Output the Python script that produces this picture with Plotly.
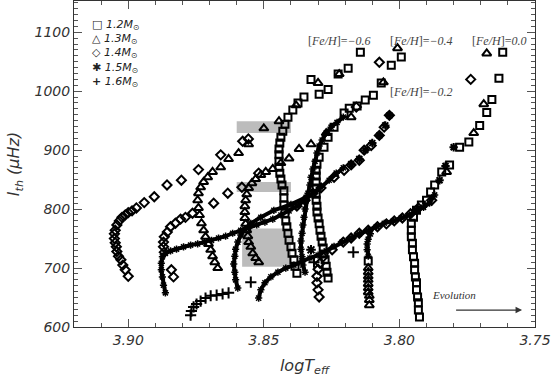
import plotly.graph_objects as go

# ---- 1.2 Msun (squares) ----
s06_x = [3.8378, 3.8385, 3.8389, 3.8396, 3.8400, 3.8407, 3.8411, 3.8415, 3.8419, 3.8422, 3.8426, 3.8426,
         3.8426, 3.8433, 3.8437, 3.8441, 3.8444, 3.8444, 3.8444, 3.8444, 3.8441, 3.8437, 3.8430, 3.8422,
         3.8411, 3.8393, 3.8374, 3.8352, 3.8326, 3.8296, 3.8263, 3.8226, 3.8189, 3.8144]
s06_y = [691, 703, 714, 725, 736, 747, 759, 770, 780, 793, 807, 819, 831, 841, 851, 861, 871, 881, 892, 902,
         912, 922, 932, 944, 956, 968, 980, 990, 1020, 995, 1003, 1029, 1039, 1066]
s04_x = [3.8263, 3.8267, 3.8270, 3.8274, 3.8278, 3.8281, 3.8285, 3.8289, 3.8293, 3.8296, 3.8300, 3.8304,
         3.8304, 3.8307, 3.8307, 3.8307, 3.8307, 3.8307, 3.8307, 3.8304, 3.8296, 3.8278, 3.8263, 3.8241,
         3.8204, 3.8185, 3.8156, 3.8126, 3.8096, 3.8067, 3.8030, 3.7993]
s04_y = [683, 693, 703, 714, 724, 734, 744, 754, 764, 775, 785, 795, 805, 815, 825, 836, 846, 856, 866, 876,
         888, 905, 922, 939, 963, 971, 975, 985, 993, 1014, 1044, 1058]
s02_x = [3.8115]
s02_y = [712]
s00_x = [3.7926, 3.7930, 3.7930, 3.7933, 3.7937, 3.7937, 3.7941, 3.7944, 3.7944, 3.7948, 3.7952, 3.7952,
         3.7956, 3.7956, 3.7956, 3.7948, 3.7937, 3.7919, 3.7900, 3.7885, 3.7870, 3.7844, 3.7815, 3.7778,
         3.7744, 3.7704, 3.7678, 3.7659, 3.7633, 3.7619]
s00_y = [617, 629, 641, 651, 663, 675, 685, 697, 708, 719, 731, 742, 753, 764, 776, 786, 798, 807, 815, 829,
         841, 863, 875, 905, 914, 942, 964, 986, 1022, 1066]

# ---- 1.3 Msun (triangles) ----
t06_x = [3.8670, 3.8681, 3.8689, 3.8696, 3.8704, 3.8715, 3.8722, 3.8730, 3.8737, 3.8741, 3.8744, 3.8741,
         3.8733, 3.8722, 3.8707, 3.8689, 3.8659, 3.8630, 3.8593, 3.8556, 3.8500, 3.8444, 3.8381, 3.8300,
         3.8222]
t06_y = [700, 710, 720, 731, 741, 753, 764, 776, 790, 802, 815, 827, 837, 846, 854, 863, 871, 885, 895, 910,
         937, 949, 976, 1014, 1029]
t04_x = [3.8519, 3.8530, 3.8541, 3.8548, 3.8556, 3.8559, 3.8563, 3.8567, 3.8570, 3.8570, 3.8570, 3.8567,
         3.8563, 3.8556, 3.8544, 3.8530, 3.8511, 3.8493, 3.8467, 3.8437, 3.8407, 3.8370, 3.8326, 3.8270,
         3.8178, 3.8059, 3.8007]
t04_y = [710, 717, 725, 736, 744, 754, 764, 775, 785, 795, 805, 815, 825, 836, 844, 851, 858, 863, 868, 878,
         886, 902, 910, 929, 956, 1015, 1073]
t02_x = [3.8111, 3.8111, 3.8111, 3.8115, 3.8115, 3.8115, 3.8115, 3.8115, 3.8115, 3.8115, 3.7826, 3.7726,
         3.7689, 3.7678]
t02_y = [637, 646, 653, 659, 666, 673, 680, 686, 693, 700, 863, 929, 978, 1064]

# ---- 1.4 Msun (diamonds) ----
d06_x = [3.9000, 3.9011, 3.9020, 3.9027, 3.9036, 3.9042, 3.9044, 3.9048, 3.9051, 3.9051, 3.9048, 3.9042,
         3.9033, 3.9023, 3.9011, 3.9000, 3.8986, 3.8970, 3.8941, 3.8904, 3.8857, 3.8804, 3.8741, 3.8659,
         3.8578, 3.8557]
d06_y = [686, 697, 705, 714, 720, 728, 736, 743, 750, 758, 764, 773, 780, 786, 790, 794, 797, 802, 811, 821,
         841, 849, 867, 892, 915, 919]
d04_x = [3.8833, 3.8841, 3.8867, 3.8870, 3.8870, 3.8867, 3.8856, 3.8844, 3.8826, 3.8807, 3.8789, 3.8763,
         3.8685, 3.8633, 3.8581, 3.8519, 3.8159, 3.8074]
d04_y = [685, 697, 727, 736, 744, 753, 761, 770, 776, 783, 786, 793, 810, 827, 837, 861, 973, 1049]
d02_x = [3.8378, 3.8348, 3.8319, 3.8289, 3.8241, 3.8204, 3.8178, 3.8148, 3.8130, 3.8104, 3.8074, 3.8056,
         3.8037]
d02_y = [805, 815, 827, 836, 854, 866, 875, 883, 900, 908, 925, 939, 959]
d00_x = [3.8296, 3.8300, 3.8304, 3.8304, 3.8300, 3.8293, 3.8281, 3.8248, 3.8207, 3.8178, 3.8148, 3.8115,
         3.8081, 3.8048, 3.8019, 3.7989, 3.7959, 3.7930, 3.7881, 3.7737]
d00_y = [651, 663, 675, 686, 698, 708, 719, 731, 744, 751, 759, 764, 770, 775, 780, 785, 792, 802, 815, 1020]

# ---- 1.5 Msun (asterisks, densely sampled tracks) ----
a02_x = [3.8863, 3.8870, 3.8874, 3.8878, 3.8878, 3.8874, 3.8863, 3.8844, 3.8822, 3.8796, 3.8770, 3.8744,
         3.8719, 3.8693, 3.8667, 3.8641, 3.8615, 3.8585, 3.8556, 3.8526, 3.8496, 3.8467, 3.8437, 3.8407,
         3.8378, 3.8348, 3.8319, 3.8289, 3.8259, 3.8233, 3.8207]
a02_y = [658, 671, 685, 697, 708, 719, 725, 729, 732, 736, 739, 741, 744, 747, 751, 754, 759, 764, 768, 773,
         778, 783, 790, 797, 805, 815, 827, 837, 849, 861, 870]
a02_top_x = [3.8178, 3.8148, 3.8126, 3.8100, 3.8074, 3.8052, 3.8037]
a02_top_y = [876, 885, 900, 912, 925, 942, 959]
a04_x = [3.8596, 3.8604, 3.8607, 3.8611, 3.8607, 3.8604, 3.8596, 3.8585, 3.8570, 3.8548, 3.8511, 3.8463,
         3.8400, 3.8344]
a04_y = [666, 680, 693, 707, 720, 732, 744, 756, 766, 776, 786, 798, 808, 820]
a06_x = [3.8348, 3.8356, 3.8359, 3.8363, 3.8363, 3.8359, 3.8356, 3.8352, 3.8348, 3.8344, 3.8337, 3.8330,
         3.8326, 3.8319, 3.8311, 3.8304, 3.8296, 3.8285, 3.8270, 3.8252, 3.8230, 3.8207]
a06_y = [693, 705, 719, 732, 746, 759, 773, 786, 800, 814, 827, 841, 854, 868, 881, 895, 907, 917, 929, 939,
         947, 956]
a00_x = [3.8519, 3.8511, 3.8496, 3.8474, 3.8448, 3.8419, 3.8389, 3.8359, 3.8330, 3.8300, 3.8270, 3.8241,
         3.8211, 3.8178, 3.8148, 3.8115, 3.8085, 3.8056, 3.8022, 3.7993, 3.7963, 3.7937, 3.7911, 3.7889,
         3.7870]
a00_y = [649, 663, 675, 685, 693, 700, 705, 712, 717, 722, 729, 737, 744, 751, 758, 764, 770, 776, 780, 785,
         790, 798, 803, 810, 824]
a00_top_x = [3.7852, 3.7830, 3.7800]
a00_top_y = [849, 873, 905]
a_mid_x = [3.8115, 3.8119, 3.8119, 3.8115, 3.8107]
a_mid_y = [720, 731, 741, 749, 758]
a_single_x = [3.8326]
a_single_y = [731]

# ---- 1.6 Msun (plus) ----
p_x = [3.8770, 3.8767, 3.8759, 3.8748, 3.8733, 3.8715, 3.8696, 3.8674, 3.8652, 3.8630, 3.8548, 3.8315,
       3.8170]
p_y = [620, 627, 634, 639, 644, 649, 653, 654, 656, 658, 676, 710, 727]

# shaded boxes
box_x0 = [3.860, 3.860, 3.858]
box_x1 = [3.840, 3.840, 3.840]
box_y0 = [929, 829, 702]
box_y1 = [949, 846, 767]

masses = ["1.2", "1.3", "1.4", "1.5", "1.6"]
glyphs = ["□", "△", "◇", "✱", "+"]
feh_labels = ["−0.6", "−0.4", "0.0", "−0.2"]
feh_pos = [(3.8222, 1086), (3.7919, 1086), (3.7633, 1086), (3.7919, 998)]

fig = go.Figure()


def add(x, y, symbol, size=7, width=2, dense=False):
    fig.add_trace(
        go.Scatter(
            x=x,
            y=y,
            mode="lines+markers" if dense else "markers",
            line=dict(color="black", width=4),
            marker=dict(symbol=symbol, size=size, color="black",
                        line=dict(color="black", width=width)),
            showlegend=False,
            hoverinfo="skip",
        )
    )


for bx0, bx1, by0, by1 in zip(box_x0, box_x1, box_y0, box_y1):
    fig.add_shape(type="rect", x0=bx0, x1=bx1, y0=by0, y1=by1,
                  fillcolor="#bcbcbc", line=dict(width=0), layer="below")

add(a02_x, a02_y, "asterisk-open", 6, 1.5, dense=True)
add(a04_x, a04_y, "asterisk-open", 6, 1.5, dense=True)
add(a06_x, a06_y, "asterisk-open", 6, 1.5, dense=True)
add(a00_x, a00_y, "asterisk-open", 6, 1.5, dense=True)
add(a_mid_x, a_mid_y, "asterisk-open", 6, 1.5, dense=True)
add(a02_top_x, a02_top_y, "asterisk-open", 7, 2)
add(a00_top_x, a00_top_y, "asterisk-open", 7, 2)
add(a_single_x, a_single_y, "asterisk-open", 8, 2)

add(p_x, p_y, "cross-thin-open", 8, 2)

for dx, dy in [(d06_x, d06_y), (d04_x, d04_y), (d02_x, d02_y), (d00_x, d00_y)]:
    add(dx, dy, "diamond-open", 7, 2)
for tx, ty in [(t06_x, t06_y), (t04_x, t04_y), (t02_x, t02_y)]:
    add(tx, ty, "triangle-up-open", 8, 2)
for sx, sy in [(s06_x, s06_y), (s04_x, s04_y), (s02_x, s02_y), (s00_x, s00_y)]:
    add(sx, sy, "square-open", 7, 2)

# legend drawn as text
for i, (m, g) in enumerate(zip(masses, glyphs)):
    fig.add_annotation(
        xref="paper", yref="paper", x=0.034, y=0.926 - i * 0.0435,
        xanchor="left", yanchor="middle", showarrow=False,
        text=f"<b>{g}</b> <i>{m}M<sub>⊙</sub></i>",
        font=dict(family="DejaVu Sans", size=11, color="#222"),
    )

for lab, (lx, ly) in zip(feh_labels, feh_pos):
    fig.add_annotation(
        x=lx, y=ly, showarrow=False,
        text=f"[<i>Fe/H</i>]=<i>{lab}</i>",
        font=dict(family="Liberation Serif", size=12, color="#444"),
    )

fig.add_annotation(
    xref="paper", yref="paper", x=0.877, y=0.075, showarrow=False,
    text="<i>Evolution</i>", font=dict(family="Liberation Serif", size=11, color="#333"),
)
fig.add_annotation(
    xref="paper", yref="paper", x=0.972, y=0.052, ax=-69, ay=0,
    showarrow=True, arrowhead=2, arrowsize=1, arrowwidth=1.3, arrowcolor="#333", text=" ",
)

axis_common = dict(
    ticks="inside", ticklen=8, tickcolor="#555", tickwidth=1,
    showline=True, linecolor="#333", linewidth=1, mirror="allticks",
    showgrid=False, zeroline=False, automargin=False,
    tickfont=dict(family="DejaVu Sans", size=14, style="italic", color="#333"),
)

fig.update_xaxes(
    range=[3.92, 3.75], tick0=3.75, dtick=0.05, tickformat=".2f",
    minor=dict(tick0=3.75, dtick=0.01, ticks="inside", ticklen=4, tickcolor="#555"),
    title=dict(text="<i>logT<sub>eff</sub></i>", font=dict(family="DejaVu Sans", size=16, color="#333"),
               standoff=13),
    **axis_common,
)
fig.update_yaxes(
    range=[600, 1153], tick0=600, dtick=100,
    minor=dict(tick0=600, dtick=10, ticks="inside", ticklen=4, tickcolor="#555"),
    title=dict(text="<i>I<sub>th</sub> (μHz)</i>", font=dict(family="DejaVu Sans", size=16, color="#333"),
               standoff=10),
    **axis_common,
)

fig.update_layout(
    width=553,
    height=377,
    margin=dict(l=74, r=18, t=1, b=50, autoexpand=False),
    paper_bgcolor="white",
    plot_bgcolor="white",
    showlegend=False,
)

# the page's default body margin would shift the figure by 8px
fig.write_html("out.html", config={"displayModeBar": False},
               post_script="document.body.style.margin='0';")
